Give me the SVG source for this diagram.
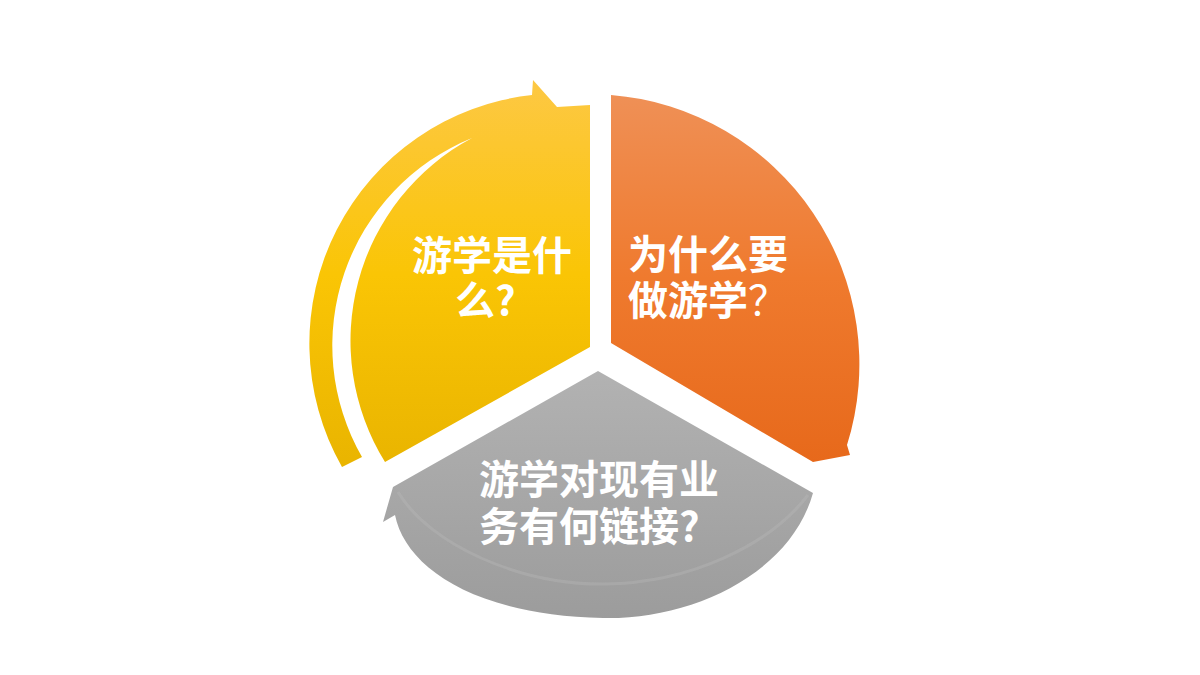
<svg xmlns="http://www.w3.org/2000/svg" width="1200" height="675" viewBox="0 0 1200 675">
  <style>
    .lbl { font-family: "Noto Sans CJK SC", "Noto Sans", sans-serif; font-weight: 700; font-size: 40px; fill: #ffffff; }
    .thin { font-weight: 400; }
  </style>
  <defs>
    <linearGradient id="gYellow" gradientUnits="userSpaceOnUse" x1="0" y1="80" x2="0" y2="470">
      <stop offset="0" stop-color="#fdc844"/>
      <stop offset="0.5" stop-color="#fac505"/>
      <stop offset="1" stop-color="#e9b400"/>
    </linearGradient>
    <linearGradient id="gOrange" gradientUnits="userSpaceOnUse" x1="0" y1="95" x2="0" y2="462">
      <stop offset="0" stop-color="#ef9056"/>
      <stop offset="0.5" stop-color="#ef7a2e"/>
      <stop offset="1" stop-color="#e7691b"/>
    </linearGradient>
    <linearGradient id="gGray" gradientUnits="userSpaceOnUse" x1="0" y1="371" x2="0" y2="618">
      <stop offset="0" stop-color="#b2b2b2"/>
      <stop offset="1" stop-color="#9c9c9c"/>
    </linearGradient>
  </defs>
  <rect width="1200" height="675" fill="#ffffff"/>

  <g id="node-yellow">
    <path fill="url(#gYellow)" d="M590,347 L590,105 L557,107 L533,80 L532,95 A250,250 0 0 0 342,467 L362,457 A224,224 0 0 1 472,138 A230,230 0 0 0 385,462 Z"/>
    <text class="lbl"><tspan x="412" y="270">游学是什</tspan><tspan x="455" y="315">么?</tspan></text>
  </g>

  <g id="node-orange">
    <path fill="url(#gOrange)" d="M611,343 L611,95 A270,270 0 0 1 847,445 L850,455 L813,462 Z"/>
    <text class="lbl"><tspan x="628" y="269">为什么要</tspan><tspan x="628" y="315">做游学<tspan class="thin">？</tspan></tspan></text>
  </g>

  <g id="node-gray">
    <path fill="url(#gGray)" d="M598,371 L393,487 L383,522 L395,515 C405,565 470,615 603,618 C690,620 790,575 813,493 Z"/>
    <path fill="none" stroke="#bababa" stroke-width="3" stroke-opacity="0.35" d="M398,492 C430,545 520,585 605,584 C690,583 770,545 808,495"/>
    <text class="lbl"><tspan x="479" y="494">游学对现有业</tspan><tspan x="479" y="541">务有何链接?</tspan></text>
  </g>
</svg>
